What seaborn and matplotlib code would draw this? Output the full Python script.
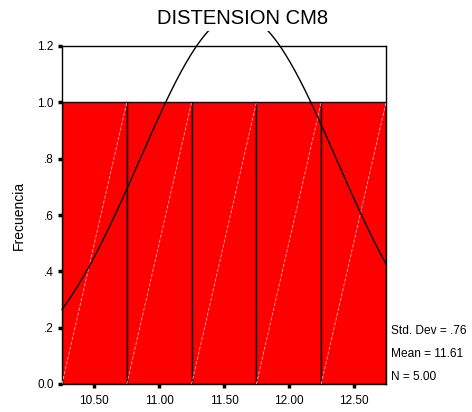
import numpy as np
import pandas as pd
import matplotlib
matplotlib.use("Agg")
import matplotlib.pyplot as plt
import seaborn as sns

# Data
bin_edges = [10.25, 10.75, 11.25, 11.75, 12.25, 12.75]
bin_centers = [10.5, 11.0, 11.5, 12.0, 12.5]
counts = [1, 1, 1, 1, 1]
std_dev = 0.76
mean = 11.61
n = 5
x_ticks = [10.5, 11.0, 11.5, 12.0, 12.5]
x_tick_labels = ["10.50", "11.00", "11.50", "12.00", "12.50"]
y_ticks = [0.0, 0.2, 0.4, 0.6, 0.8, 1.0, 1.2]
y_tick_labels = ["0.0", ".2", ".4", ".6", ".8", "1.0", "1.2"]

sns.set_style("ticks")
plt.rcParams['font.family'] = ['Liberation Sans', 'DejaVu Sans']
plt.rcParams.update({"text.color": "black", "axes.labelcolor": "black",
                     "xtick.color": "black", "ytick.color": "black"})

fig = plt.figure(figsize=(4.72, 4.12), dpi=100)
ax = fig.add_axes([62/472, 1 - 384/412, (386-62)/472, (384-46)/412])

df = pd.DataFrame({"x": bin_centers, "w": counts})
sns.histplot(data=df, x="x", weights="w", bins=bin_edges, ax=ax,
             color="#FF0000", alpha=1.0, edgecolor="black", linewidth=1.0, zorder=2)

# diagonal hatch lines in each bar
for i, c in enumerate(counts):
    ax.plot([bin_edges[i], bin_edges[i+1]], [0, c], color="#FFB0B0",
            linewidth=0.6, linestyle=(0, (4, 2)), zorder=3)

# normal curve
bw = bin_edges[1] - bin_edges[0]
xs = np.linspace(bin_edges[0], bin_edges[-1], 200)
ys = n * bw / (std_dev * np.sqrt(2 * np.pi)) * np.exp(-0.5 * ((xs - mean) / std_dev) ** 2)
sns.lineplot(x=xs, y=ys, ax=ax, color="black", linewidth=1.0)
for ln in ax.lines[-1:]:
    ln.set_clip_on(False)
    ln.set_zorder(4)

ax.set_xlim(bin_edges[0], bin_edges[-1])
ax.set_ylim(0, 1.2)
ax.set_xticks(x_ticks)
ax.set_xticklabels(x_tick_labels)
ax.set_yticks(y_ticks)
ax.set_yticklabels(y_tick_labels)
ax.tick_params(axis="both", which="major", direction="out", length=3, width=2.5,
               labelsize=8.5, bottom=True, left=True, top=False, right=False,
               colors="black", pad=3)
ax.tick_params(axis="x", pad=5)
ax.set_xlabel("")
ax.set_ylabel("Frecuencia", fontsize=10, labelpad=8)
for s in ax.spines.values():
    s.set_visible(True)
    s.set_color("black")
    s.set_linewidth(1.0)

fig.text(243/472, 1 - 19/412, "DISTENSION CM8", ha="center", va="center",
         fontsize=14.5, zorder=10,
         bbox=dict(facecolor="white", edgecolor="none", pad=1.5))

fig.text(391/472, 1 - 331/412, f"Std. Dev = .{int(round(std_dev*100)):02d}", fontsize=8.6, va="center")
fig.text(391/472, 1 - 354/412, f"Mean = {mean:.2f}", fontsize=8.6, va="center")
fig.text(391/472, 1 - 377/412, f"N = {n:.2f}", fontsize=8.6, va="center")

fig.savefig("out.png", dpi=100)
